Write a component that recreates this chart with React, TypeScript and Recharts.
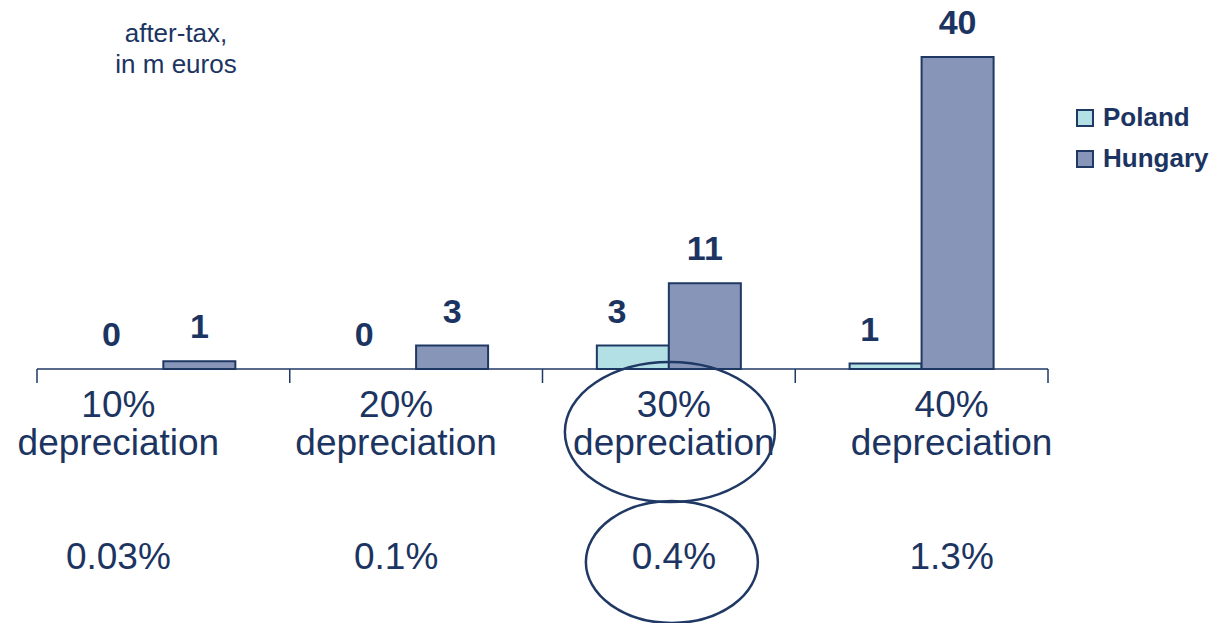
import { Bar, BarChart, LabelList, XAxis, YAxis } from "recharts";

const W = 1224;
const H = 623;
const NAVY = "#1c3461";
const POLAND_FILL = "#b2e0e4";
const HUNGARY_FILL = "#8796b8";
const BAR_STROKE = "#1f3864";
const FONT = "'Liberation Sans', Arial, sans-serif";

const MARGIN = { top: 57, right: 176, bottom: 54, left: 37 };
const AXIS_H = 200;
const BAND = (W - MARGIN.left - MARGIN.right) / 4;
const LABEL_OFFSET = 23;
const POLAND_LABEL_SHIFT = -16; // Poland labels sit a bit left of their bars in the slide
// the category labels in the slide are nudged off the band centres
const LABEL_NUDGE = [-45, -20, 5, 30];

const categories = ["10%", "20%", "30%", "40%"];
const categorySuffix = "depreciation";
const polandValues = [0, 0, 3, 0.7];
const hungaryValues = [1, 3, 11, 40];
const polandLabels = ["0", "0", "3", "1"];
const hungaryLabels = ["1", "3", "11", "40"];
const gdpShare = ["0.03%", "0.1%", "0.4%", "1.3%"];
const highlighted = "30%";

const data = categories.map((c, i) => ({
  name: c,
  poland: polandValues[i],
  hungary: hungaryValues[i],
  polandLabel: polandLabels[i],
  hungaryLabel: hungaryLabels[i],
}));

const labelStyle = {
  fontSize: 34,
  fontWeight: 700,
  fontFamily: FONT,
  fill: NAVY,
  textAnchor: "middle" as const,
};

function CategoryTick(props: any) {
  const { x, y, index, payload } = props;
  const cx = x + LABEL_NUDGE[index];
  const half = BAND / 2;
  return (
    <g>
      <line x1={x - half} y1={y} x2={x - half} y2={y + 14} stroke={BAR_STROKE} strokeWidth={1.5} />
      {index === categories.length - 1 && (
        <line x1={x + half} y1={y} x2={x + half} y2={y + 14} stroke={BAR_STROKE} strokeWidth={1.5} />
      )}
      <text x={cx} y={y + 48} textAnchor="middle" fontSize={37} fontFamily={FONT} fill={NAVY}>
        {payload.value}
      </text>
      <text x={cx} y={y + 86} textAnchor="middle" fontSize={37} fontFamily={FONT} fill={NAVY}>
        {categorySuffix}
      </text>
      <text x={cx} y={y + 200} textAnchor="middle" fontSize={37} fontFamily={FONT} fill={NAVY}>
        {gdpShare[index]}
      </text>
      {payload.value === highlighted && (
        <g fill="none" stroke={BAR_STROKE} strokeWidth={2.5}>
          <ellipse cx={cx - 4} cy={y + 63} rx={105} ry={70} />
          <ellipse cx={cx - 2} cy={y + 193} rx={86} ry={61} />
        </g>
      )}
    </g>
  );
}

function boxOf(props: any) {
  const vb = props.viewBox || {};
  return {
    x: vb.x ?? props.x,
    y: vb.y ?? props.y,
    width: vb.width ?? props.width,
    height: vb.height ?? props.height,
  };
}

// Hungary label; also writes Poland's "0" where that bar has no height
function HungaryLabel(props: any) {
  const { x, y, width, height } = boxOf(props);
  const i = hungaryLabels.indexOf(String(props.value));
  const base = y + height;
  return (
    <g>
      <text x={x + width / 2} y={y - LABEL_OFFSET} {...labelStyle}>
        {props.value}
      </text>
      {i >= 0 && polandValues[i] === 0 && (
        <text x={x - width / 2 + POLAND_LABEL_SHIFT} y={base - LABEL_OFFSET} {...labelStyle}>
          {polandLabels[i]}
        </text>
      )}
    </g>
  );
}

function PolandLabel(props: any) {
  const { x, y, width, height } = boxOf(props);
  if (!height) return null;
  return (
    <text x={x + width / 2 + POLAND_LABEL_SHIFT} y={y - LABEL_OFFSET} {...labelStyle}>
      {props.value}
    </text>
  );
}

function LegendBox() {
  const items = [
    { label: "Poland", fill: POLAND_FILL },
    { label: "Hungary", fill: HUNGARY_FILL },
  ];
  return (
    <div style={{ position: "absolute", left: 1076, top: 97 }}>
      {items.map((it) => (
        <div key={it.label} style={{ display: "flex", alignItems: "center", height: 41 }}>
          <div
            style={{
              width: 14,
              height: 14,
              background: it.fill,
              border: `2px solid ${BAR_STROKE}`,
              marginRight: 9,
            }}
          />
          <span style={{ fontFamily: FONT, fontWeight: 700, fontSize: 26, color: NAVY }}>{it.label}</span>
        </div>
      ))}
    </div>
  );
}

export default function App() {
  return (
    <div style={{ position: "absolute", left: 0, top: 0, width: W, height: H }}>
      <div
        style={{
          position: "absolute",
          left: 76,
          width: 200,
          top: 18,
          textAlign: "center",
          fontFamily: FONT,
          fontSize: 26,
          lineHeight: "31px",
          color: NAVY,
        }}
      >
        after-tax,
        <br />
        in m euros
      </div>
      <LegendBox />
      <BarChart width={W} height={H} data={data} margin={MARGIN} barCategoryGap="21.5%" barGap={0}>
        <XAxis
          dataKey="name"
          height={AXIS_H}
          interval={0}
          tickSize={0}
          tickMargin={0}
          tickLine={false}
          axisLine={{ stroke: BAR_STROKE, strokeWidth: 1.5 }}
          tick={<CategoryTick />}
        />
        <YAxis hide domain={[0, 40]} />
        <Bar dataKey="poland" fill={POLAND_FILL} stroke={BAR_STROKE} strokeWidth={2} isAnimationActive={false}>
          <LabelList dataKey="polandLabel" content={<PolandLabel />} />
        </Bar>
        <Bar dataKey="hungary" fill={HUNGARY_FILL} stroke={BAR_STROKE} strokeWidth={2} isAnimationActive={false}>
          <LabelList dataKey="hungaryLabel" content={<HungaryLabel />} />
        </Bar>
      </BarChart>
    </div>
  );
}
